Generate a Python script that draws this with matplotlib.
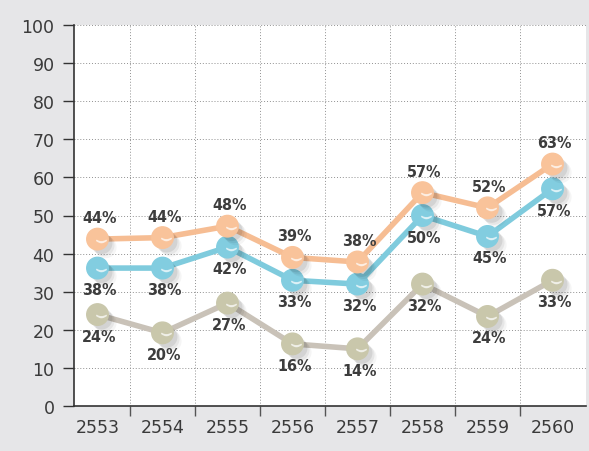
import matplotlib
matplotlib.use("Agg")
import matplotlib.pyplot as plt
import matplotlib.patheffects as pe
from matplotlib import font_manager
import numpy as np

# years (Buddhist era) on the x axis
years = ["2553", "2554", "2555", "2556", "2557", "2558", "2559", "2560"]

# plotted positions
orange_vals = [43.8, 44.2, 47.2, 39.0, 37.8, 56.0, 52.0, 63.5]
blue_vals = [36.2, 36.2, 41.7, 33.0, 32.0, 50.0, 44.5, 57.0]
gray_vals = [24.0, 19.2, 27.0, 16.3, 15.0, 32.0, 23.5, 33.0]

# printed labels
orange_labels = ["44%", "44%", "48%", "39%", "38%", "57%", "52%", "63%"]
blue_labels = ["38%", "38%", "42%", "33%", "32%", "50%", "45%", "57%"]
gray_labels = ["24%", "20%", "27%", "16%", "14%", "32%", "24%", "33%"]

# look for a narrow bold font for the point labels
names = {f.name for f in font_manager.fontManager.ttflist}
narrow = [n for n in ["Liberation Sans Narrow", "DejaVu Sans"] if n in names]

bg = "#e6e6e8"
fig = plt.figure(figsize=(5.89, 4.52), dpi=100, facecolor=bg)
ax = fig.add_axes([74/589, 45/452, 512/589, 381/452])
ax.set_facecolor("white")

x = np.arange(len(years))

series = [
    (gray_vals, gray_labels, "#c9c2b8", "#c9c7ab", -1),
    (blue_vals, blue_labels, "#7fcbdd", "#82cde0", -1),
    (orange_vals, orange_labels, "#f6bd93", "#f9c39a", 1),
]

shadow = [
    pe.SimplePatchShadow(offset=(6, -6), shadow_rgbFace="black", alpha=0.04),
    pe.SimplePatchShadow(offset=(4.5, -4.5), shadow_rgbFace="black", alpha=0.06),
    pe.SimplePatchShadow(offset=(3, -3), shadow_rgbFace="black", alpha=0.08),
    pe.Normal(),
]

for i, (vals, labs, lc, mc, side) in enumerate(series):
    ax.plot(x, vals, color=lc, lw=4, zorder=3 + i * 3, solid_capstyle="round")
    ax.plot(x, vals, ls="none", marker="o", ms=15.5, mfc=mc, mec=mc,
            zorder=4 + i * 3, path_effects=shadow)
    # small pale glint inside each marker
    ax.plot(np.array(x) + 0.05, np.array(vals) - 0.4, ls="none", marker=r"$\smile$",
            ms=7, color="white", alpha=0.6, zorder=5 + i * 3)
    for xi, v, t in zip(x, vals, labs):
        ax.annotate(t, (xi, v), xytext=(1.5, 15.5 * side), textcoords="offset points",
                    ha="center", va="center", fontsize=11.5, fontweight="bold",
                    family=narrow, fontstretch="condensed", color="#3d3d3d", zorder=20)

ax.set_xlim(-0.3615, 7.515)
ax.set_ylim(0, 100)
ax.set_yticks(np.arange(0, 101, 10))
ax.set_xticks(np.arange(0.5, 7, 1), minor=False)
ax.set_xticks(x, minor=True)
ax.set_xticklabels([])
ax.set_xticklabels(years, minor=True)
ax.tick_params(axis="x", which="minor", length=0, pad=9, labelsize=12.5, labelcolor="#3a3a3a")
ax.tick_params(axis="x", which="major", length=7, width=1, color="#555555", direction="out")
ax.tick_params(axis="y", length=8, width=1, color="#333333", pad=6, labelsize=12.5, labelcolor="#3a3a3a")

ax.grid(True, which="major", ls=(0, (1, 2)), color="#909090", lw=0.7)
ax.set_axisbelow(True)

for s in ["top", "right"]:
    ax.spines[s].set_visible(False)
ax.spines["left"].set_color("#333333")
ax.spines["bottom"].set_color("#333333")
ax.spines["left"].set_linewidth(1.2)
ax.spines["bottom"].set_linewidth(1.2)

fig.savefig("out.png", dpi=100, facecolor=bg)
